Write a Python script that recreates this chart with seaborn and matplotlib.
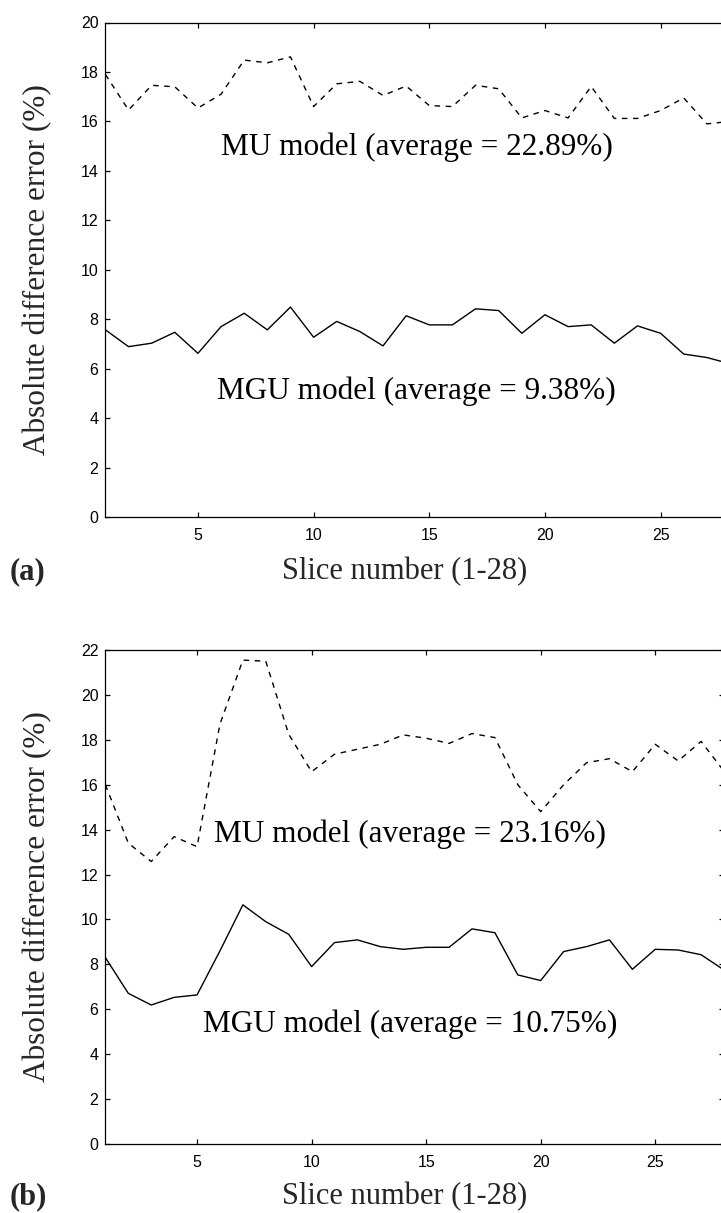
import matplotlib
matplotlib.use("Agg")
import matplotlib.pyplot as plt
import pandas as pd
import seaborn as sns

# Slice index (1-28) and absolute difference error (%) per slice
slices = list(range(1, 29))

mu_a = [17.9, 16.46, 17.46, 17.4, 16.54, 17.1, 18.48, 18.37, 18.61, 16.6,
        17.52, 17.62, 17.05, 17.43, 16.64, 16.6, 17.46, 17.32, 16.14, 16.44,
        16.14, 17.41, 16.12, 16.12, 16.44, 16.95, 15.9, 16.0]
mgu_a = [7.57, 6.89, 7.03, 7.47, 6.62, 7.7, 8.24, 7.57, 8.49, 7.27,
         7.91, 7.5, 6.92, 8.14, 7.77, 7.77, 8.42, 8.35, 7.43, 8.18,
         7.7, 7.77, 7.03, 7.73, 7.43, 6.59, 6.45, 6.2]

mu_b = [16.0, 13.4, 12.58, 13.69, 13.24, 18.7, 21.55, 21.5, 18.25, 16.58,
        17.36, 17.58, 17.8, 18.22, 18.07, 17.84, 18.28, 18.1, 16.0, 14.8,
        16.0, 16.98, 17.16, 16.58, 17.8, 17.06, 17.93, 16.6]
mgu_b = [8.3, 6.71, 6.19, 6.53, 6.64, 8.6, 10.65, 9.9, 9.34, 7.9,
         8.97, 9.09, 8.79, 8.67, 8.76, 8.76, 9.58, 9.41, 7.53, 7.28,
         8.57, 8.79, 9.09, 7.78, 8.67, 8.64, 8.43, 7.75]

panel_tags = ["(a)", "(b)"]
mu_labels = ["MU model (average = 22.89%)", "MU model (average = 23.16%)"]
mgu_labels = ["MGU model (average = 9.38%)", "MGU model (average = 10.75%)"]
y_limits = [20, 22]
x_ticks = [5, 10, 15, 20, 25]

sns.set_theme(style="ticks")
plt.rcParams["font.family"] = ["Liberation Sans Narrow", "Liberation Sans", "DejaVu Sans"]

SERIF = ["Liberation Serif", "DejaVu Serif"]
W, H = 721, 1213
fig = plt.figure(figsize=(W / 100, H / 100), dpi=100)
fig.patch.set_facecolor("white")

# axes boxes in pixels: left, top, right, bottom
boxes = [(105.4, 22.5, 730.0, 517.0), (105.4, 650.0, 724.0, 1144.0)]
text_y = [(14.63, 4.77), (13.45, 5.0)]
text_x = [14.45, 14.3]
xlabel_y = [572, 1197]

for i, (l, t, r, b) in enumerate(boxes):
    ax = fig.add_axes([l / W, 1 - b / H, (r - l) / W, (b - t) / H])
    df = pd.DataFrame({"slice": slices,
                       "mu": mu_a if i == 0 else mu_b,
                       "mgu": mgu_a if i == 0 else mgu_b})
    sns.lineplot(data=df, x="slice", y="mu", ax=ax, color="black",
                 linewidth=1.0, linestyle=(0, (4.0, 4.0)))
    sns.lineplot(data=df, x="slice", y="mgu", ax=ax, color="black",
                 linewidth=1.0)
    ax.set_xlim(1, 28)
    ax.set_ylim(0, y_limits[i])
    ax.set_xticks(x_ticks)
    ax.set_yticks(list(range(0, y_limits[i] + 1, 2)))
    ax.set_xlabel("")
    ax.set_ylabel("")
    ax.tick_params(direction="in", top=True, right=True, length=3.6,
                   width=0.9, labelsize=11.5, colors="black")
    ax.tick_params(axis="x", pad=8)
    ax.tick_params(axis="y", pad=5)
    for s in ax.spines.values():
        s.set_visible(True)
        s.set_linewidth(0.9)
        s.set_color("black")
    ax.set_facecolor("white")

    ax.text(text_x[i], text_y[i][0], mu_labels[i], ha="center", va="baseline",
            fontsize=22.5, family=SERIF, color="black")
    ax.text(text_x[i], text_y[i][1], mgu_labels[i], ha="center", va="baseline",
            fontsize=22.5, family=SERIF, color="black")

    mid = (t + b) / 2
    fig.text(38 / W, 1 - mid / H, "Absolute difference error (%)", rotation=90,
             ha="center", va="center", fontsize=22.5, family=SERIF)
    fig.text(405 / W, 1 - xlabel_y[i] / H, "Slice number (1-28)", ha="center",
             va="center", fontsize=22, family=SERIF)
    fig.text(28 / W, 1 - xlabel_y[i] / H, panel_tags[i], ha="center",
             va="center", fontsize=22, family=SERIF, fontweight="bold")

fig.savefig("out.png", dpi=100, facecolor="white")
